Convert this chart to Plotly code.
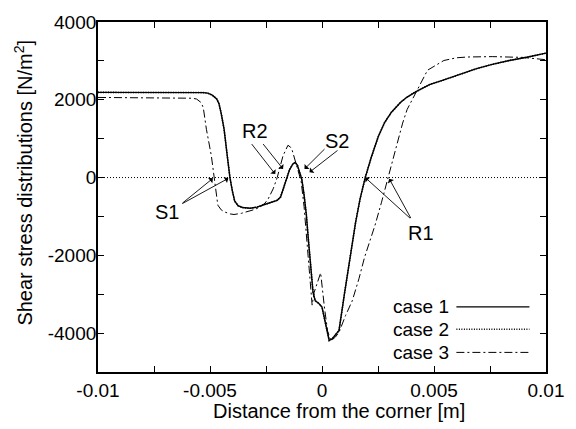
import plotly.graph_objects as go

# Shear stress along the wall, distance measured from the corner [m]
case1_x = [-0.01, -0.0060, -0.0053, -0.0051, -0.0049, -0.0047, -0.0046, -0.0045,
           -0.00437, -0.00423, -0.00411, -0.0040, -0.0039, -0.00375, -0.00355,
           -0.0032, -0.0029, -0.0025, -0.0022, -0.0020, -0.00185, -0.00174,
           -0.00158, -0.00145, -0.0013, -0.0012, -0.0011, -0.0010, -0.0009,
           -0.0008, -0.0007, -0.0006, -0.0005, -0.0004, -0.0003, -0.00015, 0.0,
           0.0001, 0.0002, 0.00032, 0.00045, 0.0006, 0.00076, 0.0010, 0.00125,
           0.0015, 0.0017, 0.00193, 0.0022, 0.00251, 0.0028, 0.0031, 0.0035,
           0.0038, 0.0042, 0.0048, 0.00544, 0.0062, 0.0069, 0.0076, 0.00836,
           0.0092, 0.01]
case1_y = [2190, 2190, 2185, 2170, 2120, 2020, 1900, 1650,
           1240, 560, 0, -350, -600, -720, -770,
           -790, -760, -680, -630, -585, -500, -290,
           0, 200, 350, 390, 320, 150, -50,
           -450, -950, -1650, -2400, -2950, -3170, -3230, -3330,
           -3600, -3950, -4190, -4150, -4050, -3930, -3000, -2050,
           -1150, -550, 0, 520, 1050, 1420, 1680, 1930,
           2070, 2210, 2390, 2510, 2660, 2800, 2910, 3010,
           3100, 3200]

case2_x = list(case1_x)
case2_y = list(case1_y)

case3_x = [-0.01, -0.0065, -0.0058, -0.0056, -0.0054, -0.0053, -0.00516, -0.00494,
           -0.00482, -0.00475, -0.00465, -0.0045, -0.00437, -0.0041, -0.00393,
           -0.0036, -0.00335, -0.0030, -0.00276, -0.00255, -0.0024, -0.00218,
           -0.0020, -0.00174, -0.00152, -0.0014, -0.00133, -0.00114, -0.0010,
           -0.00093, -0.0008, -0.0007, -0.0006, -0.0005, -0.00044, -0.00035,
           -0.00006, 0.0001, 0.00025, 0.0004, 0.0006, 0.00076, 0.00105, 0.00135,
           0.00165, 0.0019, 0.00237, 0.00265, 0.00295, 0.0032, 0.0034, 0.0036,
           0.0038, 0.0042, 0.00471, 0.00544, 0.0060, 0.0065, 0.0076, 0.00895,
           0.01]
case3_y = [2060, 2050, 2040, 2020, 1930, 1800, 1240, 560,
           0, -300, -710, -830, -880, -935, -950,
           -920, -880, -820, -755, -660, -545, -290,
           0, 560, 830, 780, 700, 340, 80,
           -100, -750, -1400, -2100, -2800, -3280, -2950,
           -2450, -3300, -3950, -4200, -4100, -3980, -3550, -3170,
           -2600, -2050, -1220, -650, 0, 500, 980, 1400,
           1750, 2210, 2760, 3010, 3080, 3100, 3110, 3090,
           3030]

zero_x = [-0.01, 0.01]
zero_y = [0, 0]

x_ticks = [-0.01, -0.0075, -0.005, -0.0025, 0, 0.0025, 0.005, 0.0075, 0.01]
x_tick_text = ["-0.01", "", "-0.005", "", "0", "", "0.005", "", "0.01"]
y_ticks = [-5000, -4000, -3000, -2000, -1000, 0, 1000, 2000, 3000, 4000]
y_tick_text = ["", "-4000", "", "-2000", "", "0", "", "2000", "", "4000"]

# Separation (S) and reattachment (R) labels with their arrows: (head, tail)
labels = [("S1", -0.00693, -880), ("R2", -0.0030, 1195),
          ("S2", 0.00069, 940), ("R1", 0.00442, -1434)]
arrows = [((-0.00487, -20), (-0.0063, -690)),
          ((-0.00418, -20), (-0.0063, -690)),
          ((-0.00209, 90), (-0.00319, 900)),
          ((-0.00174, 220), (-0.00268, 900)),
          ((-0.00078, 220), (0.00018, 770)),
          ((-0.00056, 135), (0.00076, 727)),
          ((0.00193, 0), (0.0040, -1080)),
          ((0.0030, -30), (0.0040, -1080))]

FONT = "Liberation Sans, Arial, Helvetica, sans-serif"
INK = "#000000"

series = [
    ("case 1", case1_x, case1_y, "solid", 1.4),
    ("case 2", case2_x, case2_y, "1px,1.5px", 1.6),
    ("case 3", case3_x, case3_y, "8px,3px,2px,3px", 1.0),
]

fig = go.Figure()
fig.add_trace(go.Scatter(x=zero_x, y=zero_y, mode="lines", showlegend=False,
                         line=dict(color=INK, width=1, dash="1px,2px")))
for name, xs, ys, dash, w in series:
    fig.add_trace(go.Scatter(x=xs, y=ys, mode="lines", name=name, showlegend=False,
                             line=dict(color=INK, width=w, dash=dash)))

annotations = []
for text, lx, ly in labels:
    annotations.append(dict(x=lx, y=ly, xref="x", yref="y", text=text, showarrow=False,
                            font=dict(family=FONT, size=20, color=INK)))
for (hx, hy), (tx, ty) in arrows:
    annotations.append(dict(x=hx, y=hy, xref="x", yref="y", ax=tx, ay=ty,
                            axref="x", ayref="y", text="", showarrow=True,
                            arrowhead=1, arrowsize=1.3, arrowwidth=0.9,
                            arrowcolor=INK, standoff=0))

# Legend drawn by hand: label on the left, line sample on the right
legend_rows = [0.186, 0.122, 0.056]
shapes = []
for (name, xs, ys, dash, w), yy in zip(series, legend_rows):
    annotations.append(dict(x=0.789, y=yy, xref="paper", yref="paper", text=name,
                            showarrow=False, xanchor="right", yanchor="middle",
                            font=dict(family=FONT, size=19, color=INK)))
    shapes.append(dict(type="line", xref="paper", yref="paper", x0=0.800, x1=0.963,
                       y0=yy, y1=yy, line=dict(color=INK, width=w, dash=dash)))

annotations.append(dict(x=0.538, y=-0.110, xref="paper", yref="paper",
                        text="Distance from the corner [m]", showarrow=False,
                        xanchor="center", yanchor="middle",
                        font=dict(family=FONT, size=20, color=INK)))
annotations.append(dict(x=-0.1667, y=0.542, xref="paper", yref="paper",
                        text="Shear stress distributions [N/m<sup>2</sup>]",
                        showarrow=False, textangle=-90, xanchor="center", yanchor="middle",
                        font=dict(family=FONT, size=20, color=INK)))

fig.update_layout(
    width=576, height=429,
    margin=dict(l=98, r=22, t=18, b=57),
    paper_bgcolor="white", plot_bgcolor="white",
    font=dict(family=FONT, size=19, color=INK),
    annotations=annotations, shapes=shapes,
    showlegend=False,
)
fig.update_xaxes(range=[-0.01, 0.01], tickmode="array", tickvals=x_ticks, ticktext=x_tick_text,
                 ticks="inside", ticklen=6, tickwidth=1.3, tickcolor=INK,
                 showline=True, linewidth=1.8, linecolor=INK, mirror="ticks",
                 showgrid=False, zeroline=False,
                 tickfont=dict(family=FONT, size=19, color=INK))
fig.update_yaxes(range=[-5000, 4000], tickmode="array", tickvals=y_ticks, ticktext=y_tick_text,
                 ticks="inside", ticklen=6, tickwidth=1.3, tickcolor=INK,
                 showline=True, linewidth=1.8, linecolor=INK, mirror="ticks",
                 showgrid=False, zeroline=False, ticklabelstandoff=-4,
                 tickfont=dict(family=FONT, size=19, color=INK))

fig.write_html("out.html")
